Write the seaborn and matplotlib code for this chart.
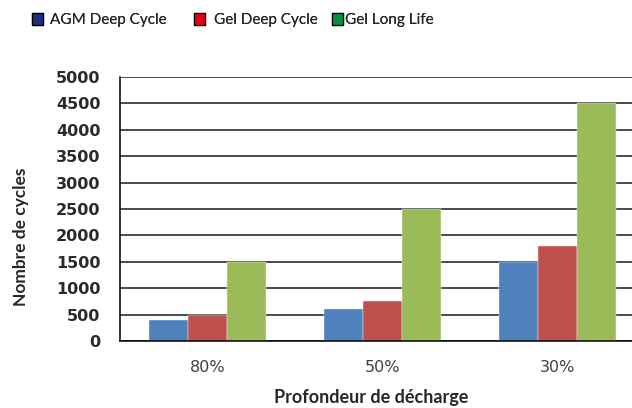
import numpy as np
import pandas as pd
import matplotlib
matplotlib.use("Agg")
import matplotlib.pyplot as plt
from matplotlib.patches import Patch
from matplotlib.ticker import FixedLocator
import seaborn as sns

# data
depths = ["80%", "50%", "30%"]
series = ["AGM Deep Cycle", "Gel Deep Cycle", "Gel Long Life"]
agm_deep = [400, 600, 1500]
gel_deep = [500, 750, 1800]
gel_long = [1500, 2500, 4500]

bar_colors = ["#4F81BD", "#C0504D", "#9BBB59"]
legend_colors = ["#1B2F7A", "#E3001B", "#00923F"]

df = pd.DataFrame({
    "depth": depths * 3,
    "type": np.repeat(series, len(depths)),
    "cycles": agm_deep + gel_deep + gel_long,
})

sns.set_style("white")
plt.rcParams["font.family"] = ["DejaVu Sans"]
label_font = ["Lato", "DejaVu Sans"]

fig = plt.figure(figsize=(6.32, 4.08), dpi=100)
ax = fig.add_axes([120 / 632, 1 - 341 / 408, 525 / 632, 264 / 408])

sns.barplot(
    data=df, x="depth", y="cycles", hue="type", order=depths, hue_order=series,
    palette=bar_colors, saturation=1, width=0.67, gap=0, ax=ax, legend=False,
    edgecolor="#f4f4f4", linewidth=0.3,
)

ax.set_xlim(-0.5, 2.5)
ax.set_ylim(0, 5000)
ax.set_yticks(np.arange(0, 5001, 500))
ax.yaxis.grid(True, color="#1a1a1a", linewidth=1.1)
ax.set_axisbelow(True)

for s in ["top", "right"]:
    ax.spines[s].set_visible(False)
for s in ["left", "bottom"]:
    ax.spines[s].set_color("black")
    ax.spines[s].set_linewidth(1.1)

ax.tick_params(axis="y", which="major", length=7, width=1.1, color="black",
               direction="out", labelsize=11.5, pad=7, labelcolor="#2a2a2a")
for lbl in ax.get_yticklabels():
    lbl.set_fontweight("bold")
ax.tick_params(axis="x", which="major", length=0, labelsize=11.5, pad=14,
               labelcolor="#404040")
ax.xaxis.set_minor_locator(FixedLocator([-0.5, 0.5, 1.5, 2.5]))
ax.tick_params(axis="x", which="minor", length=6, width=1.1, color="black",
               direction="out")

ax.set_xlabel("")
ax.set_ylabel("")
fig.text(21 / 632, 1 - 237 / 408, "Nombre de cycles", rotation=90, ha="center",
         va="center", fontsize=12.5, fontweight="bold", family=label_font)
fig.text(371 / 632, 1 - 398 / 408, "Profondeur de décharge", ha="center",
         va="center", fontsize=13, fontweight="bold", family=label_font)

# three single-entry legends to match the uneven spacing of the original
legend_x = [32, 194, 332]
text_gap = [0.45, 0.6, 0.1]
for name, col, x, gap in zip(series, legend_colors, legend_x, text_gap):
    leg = fig.legend([Patch(facecolor=col, edgecolor="black", linewidth=0.9)], [name],
                     loc="center left", bbox_to_anchor=(x / 632, 1 - 20 / 408),
                     frameon=False, handlelength=0.72, handleheight=0.9,
                     handletextpad=gap, borderaxespad=0, borderpad=0,
                     prop={"family": label_font, "size": 11})
    fig.add_artist(leg)

fig.savefig("out.png", dpi=100)
